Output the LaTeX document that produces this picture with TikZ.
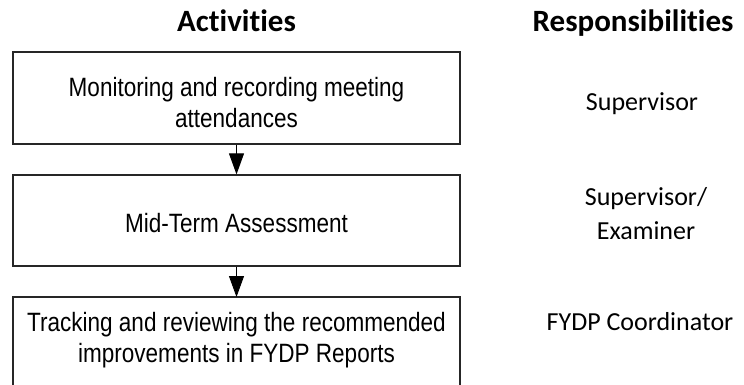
\documentclass[tikz,border=0pt]{standalone}
\usepackage{fontspec}
\setmainfont[FakeStretch=0.85]{Liberation Sans}
\newfontfamily\calib[Ligatures=CommonOff]{Carlito}
\usetikzlibrary{arrows.meta}
\begin{document}
\begin{tikzpicture}[x=1pt,y=-1pt,
  actbox/.style={draw=black!85, line width=1.2pt, minimum width=447pt, inner sep=0pt},
  acttext/.style={font=\fontsize{26.5}{30.5}\selectfont, align=center, inner sep=0pt},
  header/.style={font=\calib\bfseries\fontsize{31}{36}\selectfont, anchor=base, inner sep=0pt},
  resp/.style={font=\calib\fontsize{26}{34}\selectfont, align=center, inner sep=0pt},
  flow/.style={line width=0.9pt, -{Triangle[width=15pt,length=21pt]}}]
\useasboundingbox (0,0) rectangle (744,385);
\clip (0,0) rectangle (744,385);

% column headings
\node[header] (hact) at (236.5,32) {Activities};
\node[header] (hresp) at (633,32) {Responsibilities};

% activity boxes
\node[actbox, minimum height=92pt] (a1) at (236.5,98) {};
\node[acttext] (a1txt) at (236.5,102.5) {Monitoring and recording meeting\\attendances};

\node[actbox, minimum height=91pt] (a2) at (236.5,220.5) {};
\node[acttext] (a2txt) at (236.5,223.5) {Mid-Term Assessment};

% last box runs past the lower edge
\coordinate (a3top) at (236.5,297);
\draw[draw=black!85, line width=1.2pt] (13,400) |- (460,297) -- (460,400);
\node[acttext] (a3txt) at (236.5,340) {Tracking and reviewing the recommended\\improvements in FYDP Reports};

% flow arrows
\draw[flow] (a1.south) -- (a2.north);
\draw[flow] (a2.south) -- (a3top);

% responsibilities
\node[resp, anchor=base] (r1) at (642,111) {Supervisor};
\node[resp] (r2) at (646,214) {Supervisor/\\Examiner};
\node[resp, anchor=base] (r3) at (640,330) {FYDP Coordinator};
\end{tikzpicture}
\end{document}
